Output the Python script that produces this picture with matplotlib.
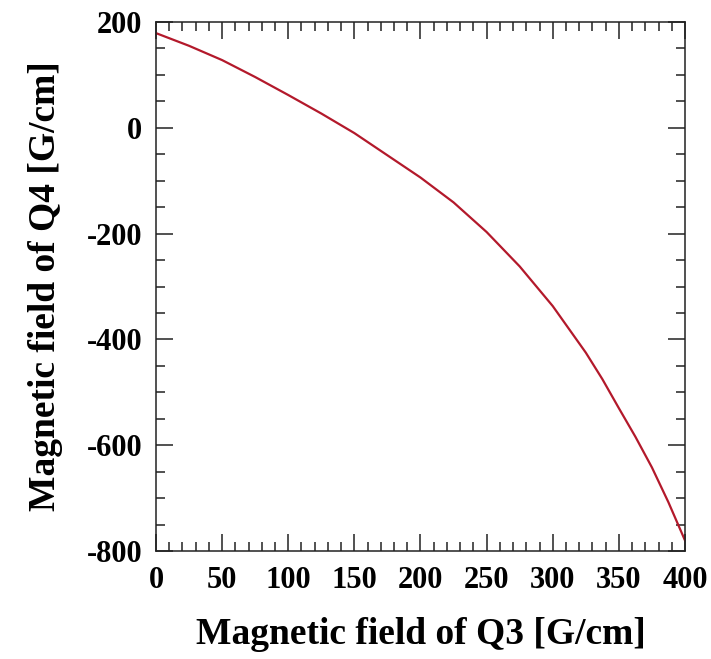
import numpy as np
import matplotlib
matplotlib.use("Agg")
import matplotlib.pyplot as plt
from matplotlib.ticker import MultipleLocator

# Q3 vs Q4 field gradients (G/cm)
q3_field = [0, 25, 50, 75, 100, 125, 150, 175, 200, 225, 250, 275, 300,
            325, 337.5, 350, 362.5, 375, 387.5, 400]
q4_field = [179, 155, 128, 96, 62, 27, -10, -52, -94, -141, -197, -262, -337,
            -425, -475, -530, -584, -642, -708, -780]

plt.rcParams['font.family'] = ['Liberation Serif', 'DejaVu Serif']
plt.rcParams['font.weight'] = 'bold'
plt.rcParams['axes.unicode_minus'] = False

fig = plt.figure(figsize=(7.11, 6.59), dpi=100)
ax = fig.add_axes([0.2194, 0.1639, 0.744, 0.8027])

ax.plot(q3_field, q4_field, color='#b3192b', linewidth=1.6)

ax.set_xlim(0, 400)
ax.set_ylim(-800, 200)
ax.xaxis.set_major_locator(MultipleLocator(50))
ax.xaxis.set_minor_locator(MultipleLocator(10))
ax.yaxis.set_major_locator(MultipleLocator(200))
ax.yaxis.set_minor_locator(MultipleLocator(50))

ax.tick_params(which='both', direction='in', top=True, right=True,
               width=1.1, color='#222222')
ax.tick_params(which='major', length=12, labelsize=22)
ax.tick_params(axis='x', which='major', pad=11)
ax.tick_params(axis='y', which='major', pad=10)
ax.tick_params(which='minor', length=6.5)
for lbl in ax.get_xticklabels() + ax.get_yticklabels():
    lbl.set_fontweight('bold')

for sp in ax.spines.values():
    sp.set_linewidth(1.1)
    sp.set_color('#222222')

ax.set_xlabel("Magnetic field of Q3 [G/cm]", fontsize=27, fontweight='bold', labelpad=16)
ax.set_ylabel("Magnetic field of Q4 [G/cm]", fontsize=27, fontweight='bold', labelpad=17)

fig.savefig("out.png", dpi=100)
